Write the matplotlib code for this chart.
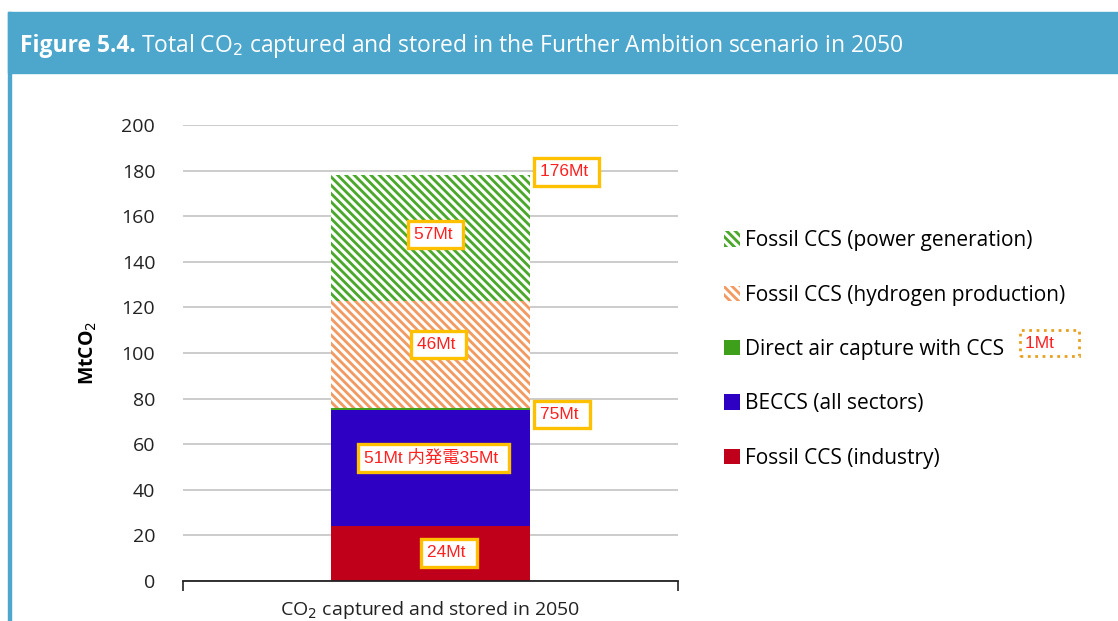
import matplotlib.pyplot as plt
from matplotlib.patches import Rectangle, Patch

# data (MtCO2), bottom to top
categories = ["Fossil CCS (industry)", "BECCS (all sectors)", "Direct air capture with CCS",
              "Fossil CCS (hydrogen production)", "Fossil CCS (power generation)"]
values = [24, 51, 1, 47, 55]
colors = ["#c0001a", "#2d00c4", "#3ea01a", "#f29a62", "#4aa82a"]
hatches = [None, None, None, "\\\\\\\\", "\\\\\\\\"]
bar_labels = ["24Mt", "51Mt 内発電35Mt", None, "46Mt", "57Mt"]
total_label = "176Mt"
sub_label = "75Mt"
dac_label = "1Mt"
yticks = list(range(0, 201, 20))

plt.rcParams["font.family"] = ["Open Sans", "Noto Sans CJK JP", "DejaVu Sans"]
plt.rcParams["hatch.linewidth"] = 2.2

W, H = 1118, 621
fig = plt.figure(figsize=(W / 100, H / 100), dpi=100)

# frame and header band
blue = "#4da6cc"
fig.patches.append(Rectangle((8 / W, 0), 3 / W, 1 - 12 / H, transform=fig.transFigure,
                             color=blue, zorder=0))
fig.patches.append(Rectangle((8 / W, 1 - 73 / H), 1, 61 / H, transform=fig.transFigure,
                             color=blue, zorder=0))
t1 = fig.text(20 / W, 1 - 46 / H, "Figure 5.4.", color="white", fontsize=16.5,
              fontweight="bold", va="center", family="Open Sans")
fig.canvas.draw()
bb = t1.get_window_extent()
fig.text((bb.x1 + 5) / W, 1 - 46 / H,
         "Total CO$_2$ captured and stored in the Further Ambition scenario in 2050",
         color="white", fontsize=16.5, va="center", family="Open Sans")

ax = fig.add_axes([183 / W, 1 - 581 / H, (678 - 183) / W, (581 - 125) / H])
bottom = 0
for name, v, c, h in zip(categories, values, colors, hatches):
    if h:
        ax.bar(0.5, v, width=0.404, bottom=bottom, color=c, edgecolor="white",
               hatch=h, linewidth=0, label=name, zorder=2)
    else:
        ax.bar(0.5, v, width=0.404, bottom=bottom, color=c, linewidth=0,
               label=name, zorder=2)
    bottom += v

ax.set_xlim(0, 1)
ax.set_ylim(0, 200)
ax.set_yticks(yticks)
ax.set_xticks([0, 1])
ax.set_xticklabels(["", ""])
ax.tick_params(axis="x", direction="out", length=7, width=1.2, color="#222222")
ax.tick_params(axis="y", length=0, pad=20, labelsize=14, labelcolor="#222222")
ax.grid(axis="y", color="#c8c8c8", linewidth=1.3, zorder=0)
for s in ["left", "right", "top"]:
    ax.spines[s].set_visible(False)
ax.spines["bottom"].set_linewidth(1.3)
ax.spines["bottom"].set_color("#222222")
ax.set_ylabel("MtCO$_2$", fontsize=14, fontweight="bold", labelpad=16)
ax.text(0.5, -0.04, "CO$_2$ captured and stored in 2050", transform=ax.transAxes,
        ha="center", va="top", fontsize=14, color="#222222")

# annotation boxes
box = dict(boxstyle="square,pad=0.35", facecolor="white", edgecolor="#ffc000", linewidth=2.4)
lab_y = [12.3, 54, None, 103.7, 151.8]
lab_x = [0.537, 0.506, None, 0.516, 0.51]
for lab, x, y in zip(bar_labels, lab_x, lab_y):
    if lab:
        ax.text(x, y, lab + " ", ha="center", va="center", color="#ff2020", fontsize=12.5,
                family=["Liberation Sans", "Noto Sans CJK JP"], bbox=box, zorder=5)
ax.text(0.722, 179.4, total_label + " ", ha="left", va="center", color="#ff2020",
        fontsize=12.5, family="Liberation Sans", bbox=box, zorder=5)
ax.text(0.722, 73.2, sub_label + " ", ha="left", va="center", color="#ff2020",
        fontsize=12.5, family="Liberation Sans", bbox=box, zorder=5)

# legend, top entry first
handles = [Patch(facecolor=c, edgecolor="white", hatch=h, linewidth=0)
           for c, h in zip(colors, hatches)][::-1]
leg = fig.legend(handles, categories[::-1], loc="upper left",
                 bbox_to_anchor=(716 / W, 1 - 222 / H), frameon=False, fontsize=15,
                 handlelength=0.75, handleheight=0.75, handletextpad=0.25,
                 labelspacing=1.6, borderaxespad=0)
fig.text(1025 / W, 1 - 343 / H, dac_label + "    ", color="#ff2020", fontsize=12.5,
         family="Liberation Sans", va="center",
         bbox=dict(boxstyle="square,pad=0.3", facecolor="white", edgecolor="#e8a020",
                   linewidth=2.0, linestyle=":"))

fig.savefig("out.png", dpi=100)
